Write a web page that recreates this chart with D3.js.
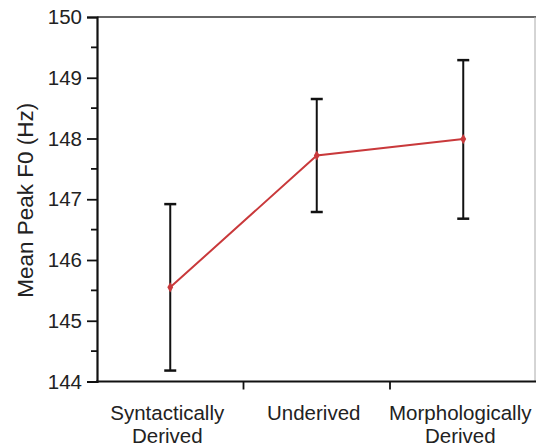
<!DOCTYPE html>
<html>
<head>
<meta charset="utf-8">
<script src="https://cdn.jsdelivr.net/npm/d3@7"></script>
<style>
  body { margin: 0; background: #fff; }
  text { font-family: "Liberation Sans", Arial, sans-serif; fill: #222; }
</style>
</head>
<body>
<div id="chart"></div>
<script>
// data
var categories = [["Syntactically", "Derived"], ["Underived"], ["Morphologically", "Derived"]]
var means = [145.55, 147.72, 147.99]
var upper = [146.92, 148.65, 149.29]
var lower = [144.18, 146.79, 146.68]
var yTicks = [144, 145, 146, 147, 148, 149, 150]
var yMinor = [144.5, 145.5, 146.5, 147.5, 148.5, 149.5]

var width = 536,
    height = 445,
    margin = {top: 17, right: 0, bottom: 63.5, left: 97}

var svg = d3.select("#chart")
    .append("svg")
        .attr("width", width)
        .attr("height", height)

var idx = d3.range(categories.length)

var x = d3.scaleBand()
    .domain(idx)
    .range([margin.left, width + 0.5])

var y = d3.scaleLinear()
    .domain([144, 150])
    .range([height - margin.bottom, margin.top])

// frame: top and right
svg.append("line")
    .attr("x1", margin.left).attr("x2", width)
    .attr("y1", y(150)).attr("y2", y(150))
    .attr("stroke", "#333").attr("stroke-width", 1.6)
svg.append("line")
    .attr("x1", width - 1).attr("x2", width - 1)
    .attr("y1", y(150)).attr("y2", y(144))
    .attr("stroke", "#aaa").attr("stroke-width", 1)

// y axis
var yAxis = svg.append("g")
    .attr("transform", "translate(" + margin.left + ",0)")
    .call(d3.axisLeft(y).tickValues(yTicks).tickFormat(d3.format("d")).tickSize(10).tickPadding(5))
yAxis.select(".domain").attr("stroke", "#111").attr("stroke-width", 2.2)
yAxis.selectAll(".tick line").attr("stroke", "#111").attr("stroke-width", 1.8)
yAxis.selectAll(".tick text").attr("font-size", "20.5px").attr("fill", "#222")
    .style("font-family", "'Liberation Sans', Arial, sans-serif")

svg.append("g")
    .selectAll("line")
    .data(yMinor)
    .enter()
    .append("line")
        .attr("x1", margin.left - 6).attr("x2", margin.left)
        .attr("y1", function(d){ return y(d) }).attr("y2", function(d){ return y(d) })
        .attr("stroke", "#111").attr("stroke-width", 1.8)

// x axis with ticks at band boundaries
var bounds = [x(1), x(2)]
var xAxis = svg.append("g")
svg.append("line")
    .attr("x1", margin.left - 1).attr("x2", width)
    .attr("y1", y(144)).attr("y2", y(144))
    .attr("stroke", "#111").attr("stroke-width", 2.2)
xAxis.selectAll("line")
    .data(bounds)
    .enter()
    .append("line")
        .attr("x1", function(d){ return d }).attr("x2", function(d){ return d })
        .attr("y1", y(144)).attr("y2", y(144) + 8)
        .attr("stroke", "#111").attr("stroke-width", 1.8)

var labels = svg.append("g")
    .selectAll("text")
    .data(idx)
    .enter()
    .append("text")
        .attr("text-anchor", "middle")
        .attr("font-size", "20.5px")
        .attr("x", function(d){ return x(d) + x.bandwidth() / 2 - 3 })
        .attr("y", 420)
labels.selectAll("tspan")
    .data(function(d){ return categories[d] })
    .enter()
    .append("tspan")
        .attr("x", function(){ return d3.select(this.parentNode).attr("x") })
        .attr("dy", function(d, i){ return i == 0 ? 0 : 22.5 })
        .text(function(d){ return d })

// y label
svg.append("text")
    .attr("transform", "translate(33," + (y(147) + 1) + ") rotate(-90)")
    .attr("text-anchor", "middle")
    .attr("font-size", "22.5px")
    .text("Mean Peak F0 (Hz)")

// error bars
var cx = function(d){ return x(d) + x.bandwidth() / 2 }
var bars = svg.append("g").attr("stroke", "#111").attr("stroke-width", 2)
bars.selectAll(".stem")
    .data(idx)
    .enter()
    .append("line")
        .attr("x1", cx).attr("x2", cx)
        .attr("y1", function(d){ return y(lower[d]) })
        .attr("y2", function(d){ return y(upper[d]) })
bars.selectAll(".capTop")
    .data(idx)
    .enter()
    .append("line")
        .attr("x1", function(d){ return cx(d) - 6 }).attr("x2", function(d){ return cx(d) + 6 })
        .attr("y1", function(d){ return y(upper[d]) }).attr("y2", function(d){ return y(upper[d]) })
        .attr("stroke-width", 2.5)
bars.selectAll(".capBottom")
    .data(idx)
    .enter()
    .append("line")
        .attr("x1", function(d){ return cx(d) - 6 }).attr("x2", function(d){ return cx(d) + 6 })
        .attr("y1", function(d){ return y(lower[d]) }).attr("y2", function(d){ return y(lower[d]) })
        .attr("stroke-width", 2.5)

// mean line
var line = d3.line()
    .x(function(d){ return cx(d) })
    .y(function(d){ return y(means[d]) })
svg.append("path")
    .datum(idx)
    .attr("d", line)
    .attr("fill", "none")
    .attr("stroke", "#c9393b")
    .attr("stroke-width", 2)

svg.selectAll(".pt")
    .data(idx)
    .enter()
    .append("path")
        .attr("d", d3.symbol().type(d3.symbolDiamond).size(30))
        .attr("transform", function(d){ return "translate(" + cx(d) + "," + y(means[d]) + ")" })
        .attr("fill", "#c9393b")
</script>
</body>
</html>
